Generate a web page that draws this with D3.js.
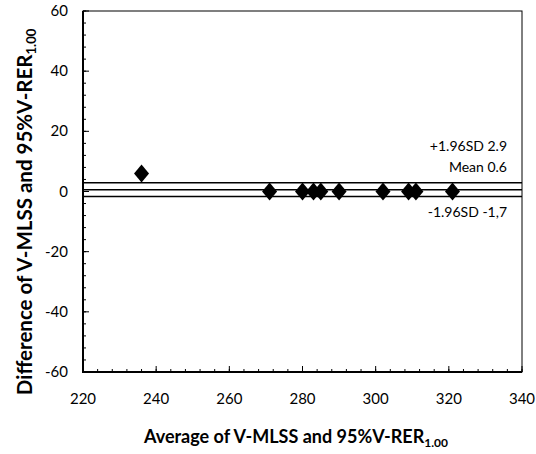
<!DOCTYPE html>
<html><head><meta charset="utf-8">
<script src="https://cdn.jsdelivr.net/npm/d3@7"></script>
<style>body{margin:0;background:#fff}</style>
</head><body>
<svg id="c" width="536" height="454"></svg>
<script>
const avgValues = [236, 271, 280, 283, 285, 290, 302, 309, 311, 321];
const diffValues = [6, 0, 0, 0, 0, 0, 0, 0, 0, 0];
const meanDiff = 0.6;
const upperLoA = 2.9;
const lowerLoA = -1.7;
const xTicks = [220, 240, 260, 280, 300, 320, 340];
const yTicks = [-60, -40, -20, 0, 20, 40, 60];
const refLabels = ["+1.96SD 2.9", "Mean 0.6", "-1.96SD -1,7"];

const svg = d3.select("#c");
const font = "Lato, 'Open Sans', sans-serif";
const L = 83, R = 522, T = 11, B = 372;
const x = d3.scaleLinear().domain([220, 340]).range([L, R]);
const y = d3.scaleLinear().domain([-60, 60]).range([B, T]);

// border
svg.append("rect").attr("x", L).attr("y", T).attr("width", R - L).attr("height", B - T)
  .attr("fill", "none").attr("stroke", "#000").attr("stroke-width", 1);

// minor ticks
const xMinor = d3.range(220, 341, 4);
const yMinor = d3.range(-60, 61, 4);
svg.append("g").selectAll("line").data(xMinor).join("line")
  .attr("x1", d => x(d)).attr("x2", d => x(d)).attr("y1", B).attr("y2", B - 3)
  .attr("stroke", "#000").attr("stroke-width", 1);
svg.append("g").selectAll("line").data(yMinor).join("line")
  .attr("y1", d => y(d)).attr("y2", d => y(d)).attr("x1", L).attr("x2", L + 3)
  .attr("stroke", "#000").attr("stroke-width", 1);
// major ticks
svg.append("g").selectAll("line").data(xTicks).join("line")
  .attr("x1", d => x(d)).attr("x2", d => x(d)).attr("y1", B).attr("y2", B - 6)
  .attr("stroke", "#000").attr("stroke-width", 1);
svg.append("g").selectAll("line").data(yTicks).join("line")
  .attr("y1", d => y(d)).attr("y2", d => y(d)).attr("x1", L).attr("x2", L + 6)
  .attr("stroke", "#000").attr("stroke-width", 1);

// thick left/bottom axes
svg.append("line").attr("x1", L).attr("x2", L).attr("y1", T).attr("y2", B + 1)
  .attr("stroke", "#000").attr("stroke-width", 2);
svg.append("line").attr("x1", L - 1).attr("x2", R).attr("y1", B).attr("y2", B)
  .attr("stroke", "#000").attr("stroke-width", 2);

// tick labels
svg.append("g").selectAll("text").data(xTicks).join("text")
  .attr("x", d => x(d)).attr("y", 404).attr("text-anchor", "middle")
  .attr("font-family", font).attr("font-size", 15).text(d => d);
svg.append("g").selectAll("text").data(yTicks).join("text")
  .attr("x", 68).attr("y", d => y(d) + 5).attr("text-anchor", "end")
  .attr("font-family", font).attr("font-size", 15).text(d => d);

// reference lines
[upperLoA, meanDiff, lowerLoA].forEach(v => {
  svg.append("line").attr("x1", L).attr("x2", R).attr("y1", y(v)).attr("y2", y(v))
    .attr("stroke", "#000").attr("stroke-width", 1.5);
});

// points
const diamond = "M0,-9 L7.5,0 L0,9 L-7.5,0 Z";
svg.append("g").selectAll("path").data(avgValues).join("path")
  .attr("d", diamond)
  .attr("transform", (d, i) => `translate(${x(d)},${y(diffValues[i])})`)
  .attr("fill", "#000");

// annotations
const annY = [151, 172, 217];
svg.append("g").selectAll("text").data(refLabels).join("text")
  .attr("x", 507).attr("y", (d, i) => annY[i]).attr("text-anchor", "end")
  .attr("font-family", font).attr("font-size", 14).text(d => d);

// x title
const xt = svg.append("text").attr("x", 296).attr("y", 443).attr("text-anchor", "middle")
  .attr("font-family", font).attr("font-size", 18).attr("font-weight", "bold");
xt.append("tspan").text("Average of V-MLSS and 95%V-RER");
xt.append("tspan").attr("font-size", 12).attr("dy", 4).text("1.00");

// y title
const yt = svg.append("text").attr("transform", "translate(32,212) rotate(-90)")
  .attr("text-anchor", "middle")
  .attr("font-family", font).attr("font-size", 20.5).attr("font-weight", "bold");
yt.append("tspan").text("Difference of V-MLSS and 95%V-RER");
yt.append("tspan").attr("font-size", 13).attr("dy", 4).text("1.00");
</script>
</body></html>
